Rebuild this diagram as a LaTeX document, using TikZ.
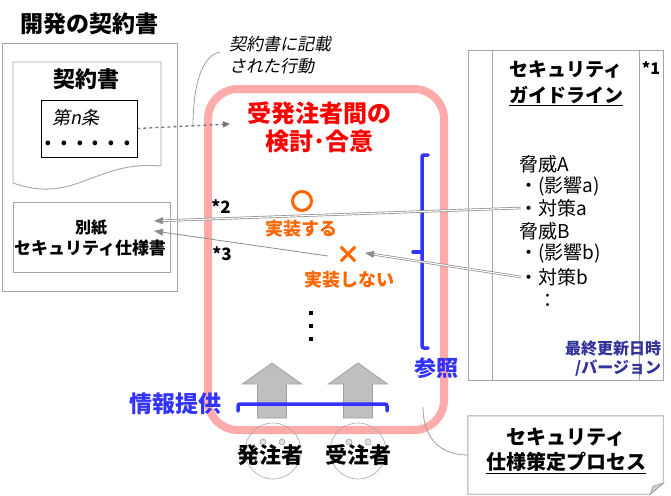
\documentclass[tikz,border=0pt]{standalone}
\usepackage{fontspec}
\setmainfont{Noto Sans CJK JP}[AutoFakeSlant=0.2]
\usetikzlibrary{arrows.meta,positioning}
\definecolor{docgray}{HTML}{A6A6A6}
\definecolor{agreepink}{HTML}{FFABAB}
\definecolor{implorange}{HTML}{FF6600}
\definecolor{refblue}{HTML}{3333FF}
\definecolor{verblue}{HTML}{333399}
\definecolor{arrowfill}{HTML}{BFBFBF}
\definecolor{arrowline}{HTML}{A0A0A0}
\definecolor{linkgray}{HTML}{8C8C8C}

\begin{document}
\begin{tikzpicture}[x=1pt,y=-1pt]
\tikzset{
  jptext/.style={inner sep=0pt,outer sep=0pt,font=\fontsize{#1}{#1}\selectfont},
  jpbold/.style={inner sep=0pt,outer sep=0pt,font=\fontsize{#1}{#1}\selectfont\bfseries},
  jpslant/.style={inner sep=0pt,outer sep=0pt,font=\fontsize{#1}{#1}\selectfont\itshape},
  docframe/.style={draw=docgray,line width=0.9pt,inner sep=0pt},
  clausebox/.style={draw=black,line width=0.8pt,inner sep=0pt},
  agreebox/.style={draw=agreepink,line width=8pt,rounded corners=30pt,inner sep=0pt},
  bracketline/.style={draw=refblue,line width=3.5pt,line cap=round,rounded corners=2pt},
  bigarrow/.style={draw=arrowline,fill=arrowfill,line width=0.8pt,line join=miter},
  facecircle/.style={circle,draw=gray!70,line width=0.6pt,minimum size=56pt,inner sep=0pt},
  faceeye/.style={circle,draw=gray!80,fill=gray!25,line width=0.5pt,minimum size=6pt,inner sep=0pt},
  calloutline/.style={draw=gray!75,line width=0.8pt},
  dashedlink/.style={draw=gray!90!black,line width=1.3pt,dashed,-{Triangle[length=7pt,width=6pt]}},
  dbllink/.style={draw=linkgray,line width=0.7pt,double=white,double distance=1.1pt,-{Triangle[length=9pt,width=7pt]}},
  thinlink/.style={draw=linkgray,line width=0.8pt,-{Triangle[length=9pt,width=7pt]}}
}
\useasboundingbox (0,0) rectangle (671,495);

\node[jpbold=23] (n_devtitle) at (89,24) {開発の契約書};
\node[docframe,minimum width=175pt,minimum height=248pt] (n_devdoc) at (89.5,167) {};
\draw[docframe] (13,183) -- (13,62) -- (161,62) -- (161,166) .. controls (95,160) and (75,205) .. (13,183);
\node[jpbold=22] (n_contract) at (86,79) {契約書};
\node[clausebox,minimum width=96pt,minimum height=57pt] (n_clause) at (89,128.5) {};
\node[jpslant=18] (n_article) at (76,118) {第\textit{n}条};
\node[jpslant=22,font=\fontsize{22}{22}\selectfont\bfseries\itshape] (n_dots) at (88,143) {.\hspace{8pt}.\hspace{8pt}.\hspace{8pt}.\hspace{8pt}.\hspace{8pt}.};
\node[docframe,minimum width=157pt,minimum height=70pt] (n_sepdoc) at (91.5,237) {};
\node[jpbold=16] (n_annex) at (91,228) {別紙};
\node[jpbold=17] (n_secspec) at (90,248) {セキュリティ仕様書};

\node[jpslant=17,anchor=north west,align=left,font=\fontsize{17}{22}\selectfont\itshape] (n_action) at (229,36) {契約書に記載\\された行動};
\coordinate (n_actstart) at (220,52);
\coordinate (n_actfoot) at (193,127);
\coordinate (n_actend) at (230,124);

\node[agreebox,minimum width=236pt,minimum height=341pt] (n_agree) at (326,259.5) {};
\node[jpbold=24,align=center,font=\fontsize{24}{28}\selectfont\bfseries,text=red] (n_agreetxt) at (319,127) {受発注者間の\\検討･合意};
\node[circle,draw=implorange,line width=3pt,minimum size=19pt,inner sep=0pt] (n_yes) at (302,201) {};
\node[jpbold=18,text=implorange] (n_yestxt) at (301,229) {実装する};
\node[minimum size=14pt,inner sep=0pt] (n_no) at (348,254) {};
\draw[implorange,line width=3pt] (n_no.north west) -- (n_no.south east) (n_no.north east) -- (n_no.south west);
\node[jpbold=18,text=implorange] (n_notxt) at (349,280) {実装しない};
\foreach \y in {313,326,339}
  \fill (309,\y-2) rectangle (313,\y+2);

\draw[bracketline] (428,155) -- (422,155) -- (422,348) -- (428,348);
\draw[bracketline] (422,252) -- (413,252);
\node[jpbold=22,text=refblue] (n_ref) at (436,368) {参照};

\node[facecircle] (n_orderer) at (273,451) {};
\node[faceeye] at (263,442) {};
\node[faceeye] at (282,442) {};
\node[facecircle] (n_contractor) at (358,451) {};
\node[faceeye] at (349,442) {};
\node[faceeye] at (368,442) {};
\node[jpbold=22] (n_orderertxt) at (270,455) {発注者};
\node[jpbold=22] (n_contractortxt) at (358,455) {受注者};

\foreach \cx in {272,358}
  \draw[bigarrow] (\cx-14.5,418) -- (\cx-14.5,384) -- (\cx-29.5,384) -- (\cx,363) -- (\cx+29.5,384) -- (\cx+14.5,384) -- (\cx+14.5,418) -- cycle;
\draw[bracketline] (238,411) -- (238,404) -- (387,404) -- (387,411);
\node[jpbold=23,text=refblue] (n_info) at (175,404) {情報提供};

\node[docframe,minimum width=195pt,minimum height=330pt] (n_guide) at (565.5,215) {};
\draw[docframe] ([xshift=25pt]n_guide.north west) -- ([xshift=25pt]n_guide.south west);
\draw[docframe] ([xshift=-24pt]n_guide.north east) -- ([xshift=-24pt]n_guide.south east);
\node[jpbold=19] (n_guidetitle) at (566,70) {セキュリティ};
\node[jpbold=19] (n_guidetitle2) at (566,96) {\underline{ガイドライン}};
\node[jpbold=16] (n_note1) at (651,68) {*1};
\node[jptext=19,anchor=west] (n_thA) at (519,164) {脅威A};
\node[jptext=19,anchor=west] (n_imA) at (519,186) {・(影響a)};
\node[jptext=19,anchor=west] (n_cmA) at (519,208) {・対策a};
\node[jptext=19,anchor=west] (n_thB) at (519,231) {脅威B};
\node[jptext=19,anchor=west] (n_imB) at (519,253) {・(影響b)};
\node[jptext=19,anchor=west] (n_cmB) at (519,277) {・対策b};
\node[jptext=19] (n_more) at (548,301) {：};
\node[jpbold=16,text=verblue,anchor=east] (n_updated) at (661,348) {最終更新日時};
\node[jpbold=16,text=verblue,anchor=east] (n_version) at (661,368) {\textit{/}バージョン};

\node[minimum width=195pt,minimum height=78pt,inner sep=0pt] (n_proc) at (565.5,455) {};
\draw[docframe] (n_proc.north west) -- (n_proc.north east) -- ([yshift=11pt]n_proc.south east) -- ([xshift=-13pt]n_proc.south east) -- (n_proc.south west) -- cycle;
\draw[docframe,fill=gray!35] ([yshift=11pt]n_proc.south east) -- ([xshift=-13pt]n_proc.south east) -- ([xshift=-10pt,yshift=8pt]n_proc.south east) -- cycle;
\node[jpbold=20] (n_proctxt) at (566,437) {セキュリティ};
\node[jpbold=20] (n_proctxt2) at (566,463) {\underline{仕様策定プロセス}};
\coordinate (n_refend) at (423,407);

\coordinate (n_tip2) at (154,221);
\coordinate (n_tip3) at (154,231);
\coordinate (n_tipno) at (365,253);
\coordinate (n_from3) at (328,256);
\node[jpbold=17] (n_note2) at (221,207) {*2};
\node[jpbold=17] (n_note3) at (222,254) {*3};

\draw[calloutline] (n_actstart) .. controls (200,56) and (193,90) .. (n_actfoot);
\draw[calloutline] (n_proc.west) .. controls (440,455) and (423,438) .. (n_refend);
\draw[dashedlink] (n_clause.east) -- (n_actend);
\draw[dbllink] ([xshift=2pt]n_cmA.west) -- (n_tip2);
\draw[dbllink] ([xshift=2pt]n_cmB.west) -- (n_tipno);
\draw[thinlink] (n_from3) -- (n_tip3);
\end{tikzpicture}
\end{document}
